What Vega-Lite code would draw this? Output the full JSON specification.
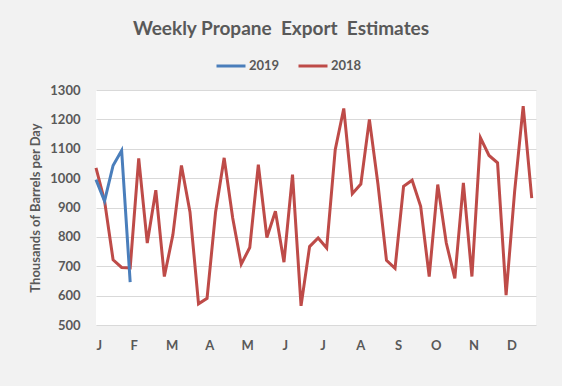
{
  "$schema": "https://vega.github.io/schema/vega-lite/v6.json",
  "width": 440,
  "height": 235,
  "autosize": "none",
  "padding": {"left": 96, "top": 90, "right": 26, "bottom": 61},
  "background": "#f2f2f2",
  "title": {
    "text": "Weekly Propane\u00a0 Export\u00a0 Estimates",
    "font": "Lato",
    "fontSize": 19,
    "fontWeight": "bold",
    "color": "#595959",
    "anchor": "middle",
    "frame": "group",
    "dx": -35,
    "offset": 11
  },
  "config": {
    "view": {"fill": "white", "stroke": null},
    "font": "Lato",
    "axis": {
      "labelFont": "Lato",
      "labelFontWeight": "bold",
      "labelFontSize": 13,
      "labelColor": "#595959",
      "titleFont": "Lato",
      "titleFontWeight": "bold",
      "titleFontSize": 13,
      "titleColor": "#595959",
      "ticks": false,
      "domain": false
    }
  },
  "data": {
    "values": [
      {"week": 0, "value": 1035, "year": "2018"},
      {"week": 1, "value": 923, "year": "2018"},
      {"week": 2, "value": 722, "year": "2018"},
      {"week": 3, "value": 696, "year": "2018"},
      {"week": 4, "value": 694, "year": "2018"},
      {"week": 5, "value": 1067, "year": "2018"},
      {"week": 6, "value": 779, "year": "2018"},
      {"week": 7, "value": 959, "year": "2018"},
      {"week": 8, "value": 665, "year": "2018"},
      {"week": 9, "value": 807, "year": "2018"},
      {"week": 10, "value": 1043, "year": "2018"},
      {"week": 11, "value": 885, "year": "2018"},
      {"week": 12, "value": 572, "year": "2018"},
      {"week": 13, "value": 591, "year": "2018"},
      {"week": 14, "value": 885, "year": "2018"},
      {"week": 15, "value": 1069, "year": "2018"},
      {"week": 16, "value": 864, "year": "2018"},
      {"week": 17, "value": 707, "year": "2018"},
      {"week": 18, "value": 764, "year": "2018"},
      {"week": 19, "value": 1046, "year": "2018"},
      {"week": 20, "value": 798, "year": "2018"},
      {"week": 21, "value": 887, "year": "2018"},
      {"week": 22, "value": 714, "year": "2018"},
      {"week": 23, "value": 1012, "year": "2018"},
      {"week": 24, "value": 565, "year": "2018"},
      {"week": 25, "value": 767, "year": "2018"},
      {"week": 26, "value": 796, "year": "2018"},
      {"week": 27, "value": 762, "year": "2018"},
      {"week": 28, "value": 1097, "year": "2018"},
      {"week": 29, "value": 1237, "year": "2018"},
      {"week": 30, "value": 947, "year": "2018"},
      {"week": 31, "value": 980, "year": "2018"},
      {"week": 32, "value": 1200, "year": "2018"},
      {"week": 33, "value": 980, "year": "2018"},
      {"week": 34, "value": 720, "year": "2018"},
      {"week": 35, "value": 693, "year": "2018"},
      {"week": 36, "value": 972, "year": "2018"},
      {"week": 37, "value": 993, "year": "2018"},
      {"week": 38, "value": 904, "year": "2018"},
      {"week": 39, "value": 665, "year": "2018"},
      {"week": 40, "value": 978, "year": "2018"},
      {"week": 41, "value": 779, "year": "2018"},
      {"week": 42, "value": 659, "year": "2018"},
      {"week": 43, "value": 984, "year": "2018"},
      {"week": 44, "value": 665, "year": "2018"},
      {"week": 45, "value": 1137, "year": "2018"},
      {"week": 46, "value": 1077, "year": "2018"},
      {"week": 47, "value": 1052, "year": "2018"},
      {"week": 48, "value": 602, "year": "2018"},
      {"week": 49, "value": 955, "year": "2018"},
      {"week": 50, "value": 1245, "year": "2018"},
      {"week": 51, "value": 932, "year": "2018"},
      {"week": 0, "value": 995, "year": "2019"},
      {"week": 1, "value": 922, "year": "2019"},
      {"week": 2, "value": 1043, "year": "2019"},
      {"week": 3, "value": 1094, "year": "2019"},
      {"week": 4, "value": 646, "year": "2019"}
    ]
  },
  "mark": {"type": "line", "strokeWidth": 3},
  "encoding": {
    "x": {
      "field": "week",
      "type": "quantitative",
      "scale": {"domain": [0, 51.5], "nice": false, "zero": false},
      "axis": {
        "title": null,
        "grid": false,
        "values": [0, 4.42, 8.84, 13.26, 17.68, 22.1, 26.52, 30.94, 35.36, 39.78, 44.2, 48.62],
        "labelExpr": "['J','F','M','A','M','J','J','A','S','O','N','D'][round(datum.value / 4.42)]",
        "labelPadding": 14
      }
    },
    "y": {
      "field": "value",
      "type": "quantitative",
      "scale": {"domain": [500, 1300], "nice": false, "zero": false},
      "axis": {
        "title": "Thousands of Barrels per Day",
        "format": "d",
        "values": [500, 600, 700, 800, 900, 1000, 1100, 1200, 1300],
        "gridColor": "#d9d9d9",
        "gridWidth": 1,
        "labelPadding": 16,
        "titlePadding": 7
      }
    },
    "color": {
      "field": "year",
      "type": "nominal",
      "scale": {"domain": ["2019", "2018"], "range": ["#4a7ebb", "#be4b48"]},
      "legend": {
        "title": null,
        "orient": "none",
        "direction": "horizontal",
        "legendX": 119,
        "legendY": -40,
        "symbolType": "stroke",
        "symbolSize": 841,
        "symbolStrokeWidth": 3,
        "labelFont": "Lato",
        "labelFontWeight": "bold",
        "labelFontSize": 13,
        "labelColor": "#595959",
        "labelOffset": 2,
        "columnPadding": 12,
        "padding": 0
      }
    },
    "order": {"field": "year", "sort": "ascending"}
  }
}
